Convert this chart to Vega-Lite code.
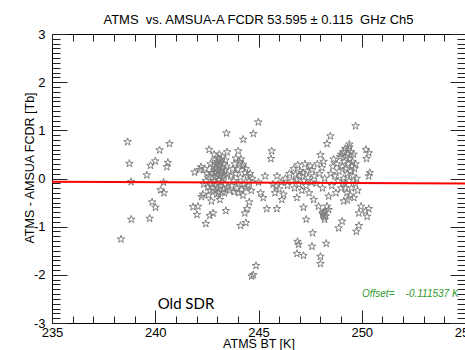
{
  "$schema": "https://vega.github.io/schema/vega-lite/v6.json",
  "width": 413,
  "height": 289,
  "autosize": {"type": "none"},
  "padding": {"left": 52, "top": 34, "right": 0, "bottom": 27},
  "background": "white",
  "title": {"text": "ATMS\u00a0\u00a0vs. AMSUA-A FCDR 53.595 ± 0.115\u00a0\u00a0GHz Ch5", "font": "Liberation Sans", "fontSize": 13, "fontWeight": "normal", "color": "black", "baseline": "alphabetic", "offset": -9, "anchor": "middle"},
  "config": {
    "view": {"stroke": "black", "strokeWidth": 1},
    "axis": {"grid": false, "domain": false, "labelFont": "Liberation Sans", "labelFontSize": 13, "labelColor": "black", "titleFont": "Liberation Sans", "titleFontSize": 12.5, "titleFontWeight": "normal", "titleColor": "black", "tickColor": "#222", "labelFlush": false, "labelOverlap": false, "labelBound": false}
  },
  "datasets": {
    "pts": [
      {"bt": 238.34, "diff": -1.26}, {"bt": 238.66, "diff": 0.76}, {"bt": 238.75, "diff": 0.31}, {"bt": 238.83, "diff": -0.07}, {"bt": 238.84, "diff": -0.85},
      {"bt": 239.59, "diff": 0.07}, {"bt": 239.73, "diff": -0.83}, {"bt": 239.77, "diff": 0.27}, {"bt": 239.85, "diff": -0.49}, {"bt": 240.01, "diff": -0.6},
      {"bt": 240.0, "diff": 0.36}, {"bt": 240.21, "diff": 0.59}, {"bt": 240.26, "diff": -0.24}, {"bt": 240.4, "diff": -0.08}, {"bt": 240.42, "diff": -0.3},
      {"bt": 240.56, "diff": 0.24}, {"bt": 240.61, "diff": 0.33}, {"bt": 240.69, "diff": 0.72},
      {"bt": 241.83, "diff": -0.59}, {"bt": 241.91, "diff": 0.13}, {"bt": 242.02, "diff": -0.75}, {"bt": 242.07, "diff": -0.58}, {"bt": 242.15, "diff": 0.18},
      {"bt": 242.22, "diff": 0.24}, {"bt": 242.24, "diff": -0.38}, {"bt": 242.31, "diff": -0.33}, {"bt": 242.45, "diff": -0.94}, {"bt": 242.61, "diff": 0.6},
      {"bt": 242.64, "diff": -0.77}, {"bt": 242.72, "diff": -0.47}, {"bt": 242.8, "diff": -0.72}, {"bt": 242.97, "diff": -0.33}, {"bt": 243.13, "diff": -0.44},
      {"bt": 243.42, "diff": -0.67}, {"bt": 243.45, "diff": 0.94}, {"bt": 243.48, "diff": 0.55}, {"bt": 244.02, "diff": 0.57}, {"bt": 244.26, "diff": 0.81},
      {"bt": 244.75, "diff": 0.93}, {"bt": 244.99, "diff": 1.17}, {"bt": 245.6, "diff": 0.41}, {"bt": 245.64, "diff": 0.57}, {"bt": 245.32, "diff": 0.05},
      {"bt": 245.23, "diff": -0.4}, {"bt": 245.4, "diff": -0.63}, {"bt": 245.85, "diff": -0.16}, {"bt": 245.89, "diff": -0.63}, {"bt": 244.55, "diff": -0.49},
      {"bt": 244.45, "diff": -0.63}, {"bt": 244.34, "diff": -0.72}, {"bt": 244.13, "diff": -0.98}, {"bt": 244.39, "diff": -0.92}, {"bt": 244.88, "diff": -1.81},
      {"bt": 244.75, "diff": -2.0}, {"bt": 244.67, "diff": -2.03},
      {"bt": 242.75, "diff": 0.12}, {"bt": 242.8, "diff": 0.25}, {"bt": 242.83, "diff": -0.05}, {"bt": 242.86, "diff": 0.38}, {"bt": 242.9, "diff": 0.02},
      {"bt": 242.92, "diff": 0.18}, {"bt": 242.95, "diff": -0.12}, {"bt": 242.97, "diff": 0.3}, {"bt": 243.0, "diff": 0.08}, {"bt": 243.02, "diff": -0.2},
      {"bt": 243.04, "diff": 0.42}, {"bt": 243.06, "diff": 0.15}, {"bt": 243.08, "diff": -0.03}, {"bt": 243.1, "diff": 0.26}, {"bt": 243.12, "diff": 0.05},
      {"bt": 243.14, "diff": -0.15}, {"bt": 243.16, "diff": 0.34}, {"bt": 243.18, "diff": 0.12}, {"bt": 243.2, "diff": -0.08}, {"bt": 243.22, "diff": 0.21},
      {"bt": 243.24, "diff": 0.0}, {"bt": 243.26, "diff": 0.45}, {"bt": 243.28, "diff": 0.1}, {"bt": 243.3, "diff": -0.22}, {"bt": 243.32, "diff": 0.3},
      {"bt": 243.34, "diff": 0.04}, {"bt": 243.36, "diff": 0.17}, {"bt": 243.38, "diff": -0.12}, {"bt": 243.4, "diff": 0.38}, {"bt": 242.7, "diff": -0.1},
      {"bt": 242.68, "diff": 0.3}, {"bt": 242.6, "diff": 0.05}, {"bt": 242.55, "diff": -0.18}, {"bt": 242.5, "diff": 0.1}, {"bt": 242.45, "diff": -0.05},
      {"bt": 242.4, "diff": 0.2}, {"bt": 242.35, "diff": -0.12}, {"bt": 242.9, "diff": -0.25}, {"bt": 243.05, "diff": -0.3}, {"bt": 242.85, "diff": 0.5},
      {"bt": 243.1, "diff": 0.5}, {"bt": 243.0, "diff": 0.35}, {"bt": 242.95, "diff": 0.22}, {"bt": 243.15, "diff": 0.4}, {"bt": 243.25, "diff": -0.28},
      {"bt": 242.8, "diff": -0.2}, {"bt": 243.35, "diff": -0.3}, {"bt": 242.65, "diff": -0.25}, {"bt": 242.58, "diff": -0.35}, {"bt": 243.45, "diff": 0.25},
      {"bt": 243.5, "diff": 0.08}, {"bt": 243.48, "diff": -0.18}, {"bt": 242.88, "diff": 0.12}, {"bt": 243.08, "diff": 0.3}, {"bt": 243.2, "diff": 0.15},
      {"bt": 243.65, "diff": 0.05}, {"bt": 243.7, "diff": -0.15}, {"bt": 243.75, "diff": 0.2}, {"bt": 243.8, "diff": -0.05}, {"bt": 243.85, "diff": 0.3},
      {"bt": 243.9, "diff": 0.1}, {"bt": 243.95, "diff": -0.2}, {"bt": 244.0, "diff": 0.19}, {"bt": 244.02, "diff": -0.1}, {"bt": 244.08, "diff": 0.35},
      {"bt": 244.12, "diff": 0.02}, {"bt": 244.18, "diff": -0.23}, {"bt": 244.22, "diff": 0.25}, {"bt": 244.26, "diff": 0.29}, {"bt": 244.3, "diff": -0.12},
      {"bt": 244.35, "diff": 0.12}, {"bt": 244.4, "diff": -0.2}, {"bt": 244.45, "diff": 0.05}, {"bt": 244.5, "diff": -0.16}, {"bt": 244.55, "diff": -0.05},
      {"bt": 244.6, "diff": 0.1}, {"bt": 244.65, "diff": -0.25}, {"bt": 244.7, "diff": 0.0}, {"bt": 243.9, "diff": 0.42}, {"bt": 244.15, "diff": 0.4},
      {"bt": 243.82, "diff": -0.28}, {"bt": 244.05, "diff": -0.3}, {"bt": 244.38, "diff": 0.2}, {"bt": 244.25, "diff": -0.35}, {"bt": 243.6, "diff": -0.25},
      {"bt": 245.0, "diff": -0.08}, {"bt": 245.1, "diff": -0.3},
      {"bt": 245.7, "diff": -0.12}, {"bt": 245.8, "diff": -0.3}, {"bt": 245.9, "diff": 0.05}, {"bt": 246.0, "diff": -0.22}, {"bt": 246.1, "diff": -0.08},
      {"bt": 246.13, "diff": -0.44}, {"bt": 246.21, "diff": -0.33}, {"bt": 246.3, "diff": 0.0}, {"bt": 246.4, "diff": -0.15}, {"bt": 246.5, "diff": 0.1},
      {"bt": 246.6, "diff": -0.05}, {"bt": 246.7, "diff": 0.2}, {"bt": 246.75, "diff": -0.2}, {"bt": 246.8, "diff": 0.08}, {"bt": 246.86, "diff": -0.02},
      {"bt": 246.86, "diff": -0.4}, {"bt": 246.9, "diff": 0.28}, {"bt": 246.95, "diff": -0.12}, {"bt": 247.0, "diff": 0.05}, {"bt": 247.02, "diff": 0.15},
      {"bt": 247.1, "diff": -0.25}, {"bt": 247.15, "diff": 0.12}, {"bt": 247.18, "diff": -0.6}, {"bt": 247.2, "diff": -0.05}, {"bt": 247.25, "diff": 0.3},
      {"bt": 247.3, "diff": -0.15}, {"bt": 247.34, "diff": 0.15}, {"bt": 247.4, "diff": 0.02}, {"bt": 247.45, "diff": -0.3}, {"bt": 247.51, "diff": 0.26},
      {"bt": 247.55, "diff": -0.08}, {"bt": 247.6, "diff": 0.18}, {"bt": 247.67, "diff": -0.44}, {"bt": 247.7, "diff": 0.05}, {"bt": 247.8, "diff": -0.1},
      {"bt": 247.85, "diff": 0.3}, {"bt": 247.91, "diff": -0.58}, {"bt": 247.95, "diff": 0.1}, {"bt": 248.07, "diff": 0.22}, {"bt": 248.1, "diff": -0.2},
      {"bt": 248.15, "diff": 0.35}, {"bt": 248.2, "diff": 0.0},
      {"bt": 247.31, "diff": -0.85}, {"bt": 247.62, "diff": -1.13}, {"bt": 246.89, "diff": -1.31}, {"bt": 246.94, "diff": -1.37}, {"bt": 247.59, "diff": -1.41},
      {"bt": 248.28, "diff": -1.35}, {"bt": 246.86, "diff": -1.56}, {"bt": 247.18, "diff": -1.6}, {"bt": 248.0, "diff": -1.62}, {"bt": 248.0, "diff": -1.77},
      {"bt": 248.88, "diff": -1.03}, {"bt": 249.05, "diff": -0.89}, {"bt": 248.4, "diff": -0.37}, {"bt": 248.32, "diff": -0.58}, {"bt": 248.4, "diff": -0.65},
      {"bt": 248.15, "diff": -0.7}, {"bt": 248.12, "diff": -0.75}, {"bt": 248.18, "diff": -0.8}, {"bt": 248.2, "diff": -0.85}, {"bt": 248.1, "diff": -0.72},
      {"bt": 248.22, "diff": -0.68}, {"bt": 248.25, "diff": -0.78},
      {"bt": 248.48, "diff": 0.88}, {"bt": 248.32, "diff": 0.72}, {"bt": 249.7, "diff": 1.09}, {"bt": 249.4, "diff": 0.71}, {"bt": 248.0, "diff": 0.49},
      {"bt": 248.64, "diff": 0.4},
      {"bt": 248.5, "diff": 0.1}, {"bt": 248.55, "diff": -0.15}, {"bt": 248.6, "diff": 0.25}, {"bt": 248.7, "diff": 0.05}, {"bt": 248.75, "diff": -0.3},
      {"bt": 248.8, "diff": 0.3}, {"bt": 248.85, "diff": -0.05}, {"bt": 248.9, "diff": 0.15}, {"bt": 248.95, "diff": 0.45}, {"bt": 249.0, "diff": -0.2},
      {"bt": 249.05, "diff": 0.25}, {"bt": 249.1, "diff": 0.55}, {"bt": 249.12, "diff": 0.0}, {"bt": 249.15, "diff": 0.35}, {"bt": 249.18, "diff": -0.1},
      {"bt": 249.2, "diff": 0.62}, {"bt": 249.22, "diff": 0.2}, {"bt": 249.25, "diff": 0.45}, {"bt": 249.28, "diff": -0.3}, {"bt": 249.3, "diff": 0.1},
      {"bt": 249.32, "diff": 0.5}, {"bt": 249.35, "diff": 0.3}, {"bt": 249.38, "diff": -0.05}, {"bt": 249.4, "diff": 0.65}, {"bt": 249.42, "diff": 0.4},
      {"bt": 249.45, "diff": 0.15}, {"bt": 249.48, "diff": 0.55}, {"bt": 249.5, "diff": -0.2}, {"bt": 249.52, "diff": 0.25}, {"bt": 249.55, "diff": 0.35},
      {"bt": 249.58, "diff": 0.05}, {"bt": 249.6, "diff": 0.5}, {"bt": 249.62, "diff": -0.4}, {"bt": 249.65, "diff": 0.2}, {"bt": 249.68, "diff": -0.1},
      {"bt": 249.7, "diff": 0.3}, {"bt": 249.75, "diff": 0.0}, {"bt": 249.8, "diff": -0.25}, {"bt": 249.3, "diff": -0.45}, {"bt": 249.13, "diff": -0.47},
      {"bt": 249.45, "diff": -0.35}, {"bt": 249.2, "diff": -0.2}, {"bt": 249.0, "diff": 0.5}, {"bt": 249.35, "diff": 0.6},
      {"bt": 250.34, "diff": 0.53}, {"bt": 250.23, "diff": 0.41}, {"bt": 250.39, "diff": 0.12}, {"bt": 250.34, "diff": 0.05}, {"bt": 249.97, "diff": -0.58},
      {"bt": 250.34, "diff": -0.63}, {"bt": 249.86, "diff": -0.72}, {"bt": 250.26, "diff": -0.79}, {"bt": 249.86, "diff": -0.98}, {"bt": 249.74, "diff": -1.1},
      {"bt": 250.18, "diff": -0.68}, {"bt": 250.2, "diff": 0.6}
    ],
    "fit": [{"bt": 235, "diff": -0.07}, {"bt": 255, "diff": -0.105}],
    "notes": [
      {"bt": 240.12, "diff": -2.7, "label": "Old SDR"},
      {"bt": 250.01, "diff": -2.47, "label": "Offset=\u00a0\u00a0\u00a0\u00a0-0.111537 K"}
    ]
  },
  "layer": [
    {
      "data": {"name": "pts"},
      "mark": {"type": "point", "shape": "M0,-1L0.225,-0.309L0.951,-0.309L0.363,0.118L0.588,0.809L0,0.382L-0.588,0.809L-0.363,0.118L-0.951,-0.309L-0.225,-0.309Z", "filled": false, "stroke": "#808080", "strokeWidth": 1, "size": 64, "opacity": 1},
      "encoding": {
        "x": {"field": "bt", "type": "quantitative", "scale": {"domain": [235, 255], "nice": false, "zero": false},
          "axis": {"orient": "bottom", "title": "ATMS BT [K]", "values": [235,236,237,238,239,240,241,242,243,244,245,246,247,248,249,250,251,252,253,254,255],
            "tickSize": {"condition": {"test": "datum.value % 5 === 0", "value": -13}, "value": -7},
            "labelPadding": 16, "labelExpr": "datum.value % 5 === 0 ? '' + datum.value : ''",
            "titleBaseline": "alphabetic", "titleY": 24.5}},
        "y": {"field": "diff", "type": "quantitative", "scale": {"domain": [-3, 3], "nice": false, "zero": false},
          "axis": {"orient": "left", "title": "ATMS - AMSUA FCDR [Tb]",
            "values": [-3,-2.9,-2.8,-2.7,-2.6,-2.5,-2.4,-2.3,-2.2,-2.1,-2,-1.9,-1.8,-1.7,-1.6,-1.5,-1.4,-1.3,-1.2,-1.1,-1,-0.9,-0.8,-0.7,-0.6,-0.5,-0.4,-0.3,-0.2,-0.1,0,0.1,0.2,0.3,0.4,0.5,0.6,0.7,0.8,0.9,1,1.1,1.2,1.3,1.4,1.5,1.6,1.7,1.8,1.9,2,2.1,2.2,2.3,2.4,2.5,2.6,2.7,2.8,2.9,3],
            "tickSize": {"condition": {"test": "abs(datum.value - round(datum.value)) < 0.001", "value": -15}, "value": -8},
            "labelPadding": 22, "labelExpr": "abs(datum.value - round(datum.value)) < 0.001 ? '' + round(datum.value) : ''",
            "titleX": -19, "titleY": 133.5, "titleBaseline": "alphabetic", "titleAngle": -90}}
      }
    },
    {
      "data": {"name": "fit"},
      "mark": {"type": "line", "color": "#ff0000", "strokeWidth": 2},
      "encoding": {
        "x": {"field": "bt", "type": "quantitative",
          "axis": {"orient": "top", "title": null, "labels": false, "values": [235,236,237,238,239,240,241,242,243,244,245,246,247,248,249,250,251,252,253,254,255],
            "tickSize": {"condition": {"test": "datum.value % 5 === 0", "value": -13}, "value": -7}}},
        "y": {"field": "diff", "type": "quantitative",
          "axis": {"orient": "right", "title": null, "labels": false,
            "values": [-3,-2.9,-2.8,-2.7,-2.6,-2.5,-2.4,-2.3,-2.2,-2.1,-2,-1.9,-1.8,-1.7,-1.6,-1.5,-1.4,-1.3,-1.2,-1.1,-1,-0.9,-0.8,-0.7,-0.6,-0.5,-0.4,-0.3,-0.2,-0.1,0,0.1,0.2,0.3,0.4,0.5,0.6,0.7,0.8,0.9,1,1.1,1.2,1.3,1.4,1.5,1.6,1.7,1.8,1.9,2,2.1,2.2,2.3,2.4,2.5,2.6,2.7,2.8,2.9,3],
            "tickSize": {"condition": {"test": "abs(datum.value - round(datum.value)) < 0.001", "value": -15}, "value": -8}}}
      }
    },
    {
      "data": {"name": "notes"},
      "transform": [{"filter": "datum.label == 'Old SDR'"}],
      "mark": {"type": "text", "font": "Lato", "fontSize": 15, "color": "black", "align": "left", "baseline": "alphabetic"},
      "encoding": {
        "x": {"field": "bt", "type": "quantitative", "axis": null},
        "y": {"field": "diff", "type": "quantitative", "axis": null},
        "text": {"field": "label"}
      }
    },
    {
      "data": {"name": "notes"},
      "transform": [{"filter": "datum.label != 'Old SDR'"}],
      "mark": {"type": "text", "font": "Liberation Sans", "fontSize": 10, "fontStyle": "italic", "color": "#2e9b2e", "align": "left", "baseline": "alphabetic"},
      "encoding": {
        "x": {"field": "bt", "type": "quantitative", "axis": null},
        "y": {"field": "diff", "type": "quantitative", "axis": null},
        "text": {"field": "label"}
      }
    }
  ],
  "resolve": {"axis": {"x": "independent", "y": "independent"}}
}
